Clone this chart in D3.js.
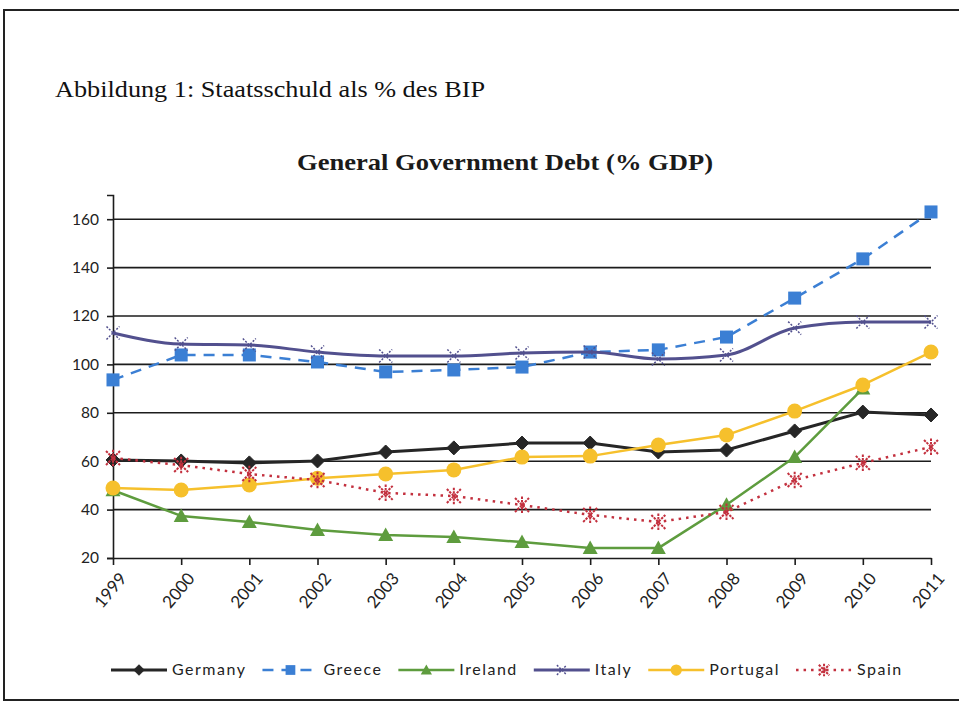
<!DOCTYPE html>
<html><head><meta charset="utf-8">
<script src="https://cdn.jsdelivr.net/npm/d3@7"></script>
<style>
html,body{margin:0;padding:0;background:#fff;}
svg{display:block;}
</style></head>
<body>
<svg id="c" width="959" height="704"></svg>
<script>
const years = ["1999","2000","2001","2002","2003","2004","2005","2006","2007","2008","2009","2010","2011"];
const germany  = [60.5, 60.1, 59.3, 60.1, 63.8, 65.5, 67.5, 67.5, 63.8, 64.6, 72.5, 80.3, 79.1];
const greece   = [93.6, 103.9, 103.9, 101.0, 96.9, 97.7, 98.9, 105.1, 106.0, 111.3, 127.4, 143.6, 163.0];
const ireland  = [48.0, 37.4, 34.9, 31.6, 29.5, 28.7, 26.6, 24.1, 24.1, 42.0, 61.7, 90.0, null];
const italy    = [113.0, 108.4, 108.0, 105.1, 103.5, 103.5, 104.7, 105.1, 102.2, 103.9, 115.0, 117.5, 117.5];
const portugal = [48.9, 48.1, 50.2, 53.0, 54.7, 56.4, 61.7, 62.1, 66.7, 70.8, 80.7, 91.5, 105.1];
const spain    = [61.3, 58.4, 54.7, 52.2, 46.9, 45.6, 41.9, 37.8, 34.9, 39.0, 52.2, 59.3, 65.9];
const yTicks = [20, 40, 60, 80, 100, 120, 140, 160];
const seriesNames = ["Germany", "Greece", "Ireland", "Italy", "Portugal", "Spain"];
const figureTitle = "Abbildung 1: Staatsschuld als % des BIP";
const chartTitle = "General Government Debt (% GDP)";

const seriesValues = [germany, greece, ireland, italy, portugal, spain];
const styles = {
  Germany:  {color:"#262626", width:3,   dash:null,   marker:"diamond", curve:d3.curveLinear},
  Greece:   {color:"#3b7fd4", width:2.5, dash:"11,8", marker:"square",  curve:d3.curveLinear},
  Ireland:  {color:"#5e9c3e", width:2.5, dash:null,   marker:"triangle",curve:d3.curveLinear},
  Italy:    {color:"#52508e", width:3,   dash:null,   marker:"x",       curve:d3.curveMonotoneX},
  Portugal: {color:"#f6c02c", width:2.5, dash:null,   marker:"circle",  curve:d3.curveLinear},
  Spain:    {color:"#c3303e", width:2.5, dash:"2.5,5",marker:"star",    curve:d3.curveLinear}
};

const svg = d3.select("#c");
svg.append("path").attr("d","M959,10 L4,10 L4,700 L959,700")
  .attr("fill","none").attr("stroke","#222").attr("stroke-width",2);

svg.append("text").attr("x",55).attr("y",97)
  .attr("font-family","'Liberation Serif','DejaVu Serif',serif").attr("font-size",24)
  .attr("textLength",430).attr("lengthAdjust","spacingAndGlyphs")
  .attr("fill","#111").text(figureTitle);

svg.append("text").attr("x",297).attr("y",170)
  .attr("font-family","'Liberation Serif','DejaVu Serif',serif").attr("font-size",23)
  .attr("font-weight","bold")
  .attr("textLength",416).attr("lengthAdjust","spacingAndGlyphs")
  .attr("fill","#1a1a1a").text(chartTitle);

const x = d3.scalePoint().domain(years).range([113, 931]);
const y = d3.scaleLinear().domain([20, 170]).range([558, 195]);

const g = svg.append("g");
g.selectAll("line.grid").data(yTicks.filter(t=>t>20)).join("line")
  .attr("x1",113).attr("x2",931)
  .attr("y1",d=>y(d)).attr("y2",d=>y(d))
  .attr("stroke","#1c1c1c").attr("stroke-width",1.6);

const yAxis = g.append("g").attr("transform","translate(113,0)")
  .call(d3.axisLeft(y).tickValues(yTicks).tickSize(6).tickPadding(8));
yAxis.select(".domain").attr("stroke","#1c1c1c").attr("stroke-width",1.6);
yAxis.selectAll(".tick line").attr("stroke","#1c1c1c").attr("stroke-width",1.6);
yAxis.selectAll(".tick text").attr("font-family","Lato,'Open Sans',sans-serif")
  .attr("font-size",15.5).attr("fill","#222");

const xAxis = g.append("g").attr("transform","translate(0,558)")
  .call(d3.axisBottom(x).tickSize(7).tickSizeOuter(0));
xAxis.select(".domain").attr("stroke","#1c1c1c").attr("stroke-width",1.6);
xAxis.selectAll(".tick line").attr("stroke","#1c1c1c").attr("stroke-width",1.6);
xAxis.selectAll(".tick text").attr("font-family","Lato,'Open Sans',sans-serif")
  .attr("font-size",17).attr("fill","#222")
  .attr("text-anchor","end").attr("dy",0).attr("y",0)
  .attr("transform","translate(14,21) rotate(-50)");

function drawMarker(sel, type, color, size) {
  const s = size;
  if (type === "diamond") {
    sel.append("path").attr("d",`M0,${-s}L${s},0L0,${s}L${-s},0Z`).attr("fill",color).attr("stroke",color);
  } else if (type === "square") {
    sel.append("rect").attr("x",-s).attr("y",-s).attr("width",2*s).attr("height",2*s).attr("fill",color);
  } else if (type === "triangle") {
    sel.append("path").attr("d",`M0,${-s}L${s},${s*0.8}L${-s},${s*0.8}Z`).attr("fill",color);
  } else if (type === "circle") {
    sel.append("circle").attr("r",s).attr("fill",color);
  } else if (type === "x") {
    sel.append("path").attr("d",`M${-s},${-s}L${s},${s}M${-s},${s}L${s},${-s}`)
      .attr("stroke",color).attr("stroke-width",1.5).attr("stroke-dasharray","2,1.5");
  } else if (type === "star") {
    sel.append("path").attr("d",`M${-s},${-s}L${s},${s}M${-s},${s}L${s},${-s}M0,${-s*1.2}L0,${s*1.2}`)
      .attr("stroke",color).attr("stroke-width",2).attr("stroke-dasharray","2.5,1");
  }
}
const markerSize = {diamond:7, square:6.5, triangle:7.5, circle:7.5, x:6.5, star:7};

seriesNames.forEach((name, i) => {
  const st = styles[name];
  const data = seriesValues[i].map((v, j) => ({year: years[j], v}));
  const line = d3.line().defined(d => d.v !== null)
    .x(d => x(d.year)).y(d => y(d.v)).curve(st.curve);
  g.append("path").datum(data).attr("d", line)
    .attr("fill","none").attr("stroke",st.color).attr("stroke-width",st.width)
    .attr("stroke-dasharray",st.dash).attr("stroke-linejoin","round");
  const mg = g.append("g");
  data.filter(d => d.v !== null).forEach(d => {
    const m = mg.append("g").attr("transform",`translate(${x(d.year)},${y(d.v)})`);
    drawMarker(m, st.marker, st.color, markerSize[st.marker]);
  });
});

// legend
const lg = svg.append("g").attr("transform","translate(0,670)");
let lx = 111;
seriesNames.forEach(name => {
  const st = styles[name];
  const it = lg.append("g").attr("transform",`translate(${lx},0)`);
  it.append("line").attr("x1",0).attr("x2",56).attr("y1",0).attr("y2",0)
    .attr("stroke",st.color).attr("stroke-width",st.width).attr("stroke-dasharray",st.dash);
  const m = it.append("g").attr("transform","translate(28,0)");
  drawMarker(m, st.marker, st.color, markerSize[st.marker]*0.75);
  const t = it.append("text").attr("x",61).attr("y",5)
    .attr("font-family","Lato,'Open Sans',sans-serif").attr("font-size",16)
    .attr("letter-spacing",1.5).attr("fill","#222").text(name);
  lx += 61 + t.node().getComputedTextLength() + 16;
});
</script>
</body></html>
